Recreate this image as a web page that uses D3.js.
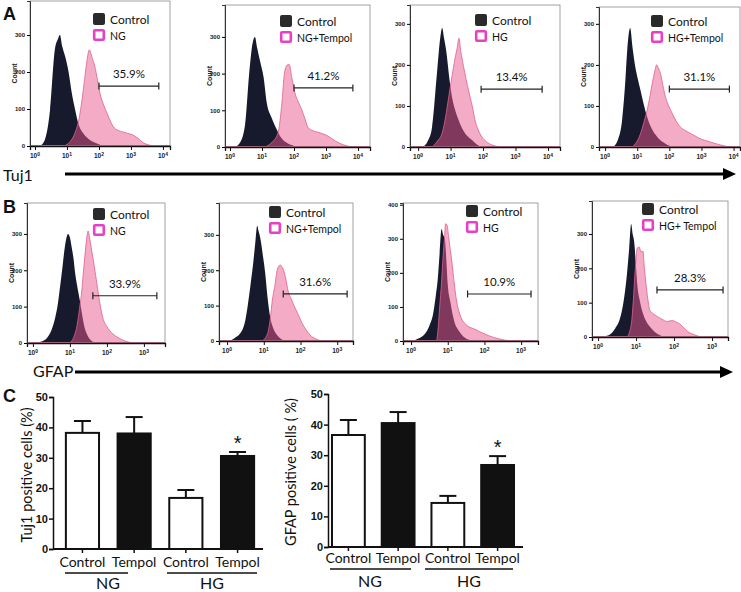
<!DOCTYPE html>
<html><head><meta charset="utf-8">
<script src="https://cdn.jsdelivr.net/npm/d3@7"></script>
<style>body{margin:0;background:#fff}svg{display:block}</style>
</head><body>
<svg id="c" width="741" height="592"></svg>
<script>
// ---------- DATA (histograms: [log10 intensity, count]) ----------
const a1Control = [[0.15,0],[0.3,15],[0.47,97],[0.62,260],[0.72,290],[0.78,300],[0.85,270],[0.95,240],[1.05,200],[1.15,143],[1.25,100],[1.35,62],[1.5,35],[1.6,25],[1.75,14],[1.9,8],[2.05,3],[2.25,0]];
const a1Sample = [[0.9,0],[1.1,12],[1.25,35],[1.38,75],[1.47,125],[1.55,180],[1.6,215],[1.7,260],[1.78,240],[1.87,215],[1.95,180],[2.03,143],[2.15,110],[2.25,89],[2.35,68],[2.45,52],[2.6,42],[2.75,38],[2.9,34],[3.06,30],[3.2,22],[3.4,8],[3.55,3],[3.7,0]];
const a2Control = [[0.15,0],[0.3,10],[0.47,60],[0.6,200],[0.7,280],[0.78,300],[0.85,270],[0.95,230],[1.05,190],[1.15,120],[1.3,80],[1.45,50],[1.6,25],[1.8,10],[2.0,3],[2.2,0]];
const a2Sample = [[1.1,0],[1.3,12],[1.5,38],[1.63,128],[1.7,200],[1.78,223],[1.85,225],[1.93,190],[2.03,147],[2.15,120],[2.25,100],[2.35,75],[2.44,53],[2.6,44],[2.75,40],[2.9,36],[3.06,30],[3.2,22],[3.38,12],[3.55,6],[3.7,2],[3.9,0]];
const a3Control = [[0.15,0],[0.3,15],[0.43,49],[0.58,180],[0.68,265],[0.74,290],[0.8,265],[0.86,237],[0.98,156],[1.06,115],[1.14,90],[1.25,65],[1.35,46],[1.5,28],[1.66,17],[1.8,7],[1.97,0]];
const a3Sample = [[0.43,0],[0.6,15],[0.74,34],[0.85,75],[0.93,115],[1.04,171],[1.14,217],[1.2,240],[1.26,265],[1.31,235],[1.36,212],[1.44,180],[1.52,150],[1.6,122],[1.68,95],[1.75,66],[1.85,42],[1.97,24],[2.1,13],[2.28,5],[2.5,0]];
const a4Control = [[0.25,0],[0.4,18],[0.53,66],[0.62,150],[0.69,237],[0.78,290],[0.85,245],[0.94,195],[1.02,165],[1.1,139],[1.2,105],[1.31,73],[1.45,45],[1.63,24],[1.8,12],[1.94,5],[2.2,0]];
const a4Sample = [[0.84,0],[0.98,12],[1.1,32],[1.2,58],[1.31,90],[1.4,125],[1.47,156],[1.55,185],[1.6,200],[1.66,192],[1.72,180],[1.8,150],[1.88,122],[1.98,100],[2.09,82],[2.2,65],[2.34,49],[2.5,40],[2.66,33],[2.8,27],[2.97,20],[3.12,16],[3.28,12],[3.45,8],[3.6,5],[3.75,2],[3.9,0]];
const b1Control = [[0.1,0],[0.25,5],[0.38,14],[0.5,35],[0.6,69],[0.67,105],[0.73,152],[0.8,210],[0.86,262],[0.95,300],[1.0,290],[1.05,262],[1.1,230],[1.14,193],[1.2,155],[1.27,116],[1.33,78],[1.4,41],[1.47,22],[1.54,10],[1.7,0]];
const b1Sample = [[1.0,0],[1.1,15],[1.2,52],[1.26,95],[1.32,143],[1.36,190],[1.4,234],[1.45,285],[1.49,308],[1.54,285],[1.59,253],[1.66,210],[1.73,162],[1.8,115],[1.89,69],[2.0,45],[2.16,25],[2.3,15],[2.43,8],[2.7,0]];
const b2Control = [[0.03,0],[0.2,8],[0.4,28],[0.5,60],[0.57,105],[0.64,160],[0.71,218],[0.77,280],[0.82,326],[0.86,310],[0.9,293],[0.97,245],[1.04,190],[1.1,125],[1.17,70],[1.25,38],[1.36,17],[1.6,0]];
const b2Sample = [[0.95,0],[1.05,10],[1.12,27],[1.18,65],[1.23,113],[1.3,155],[1.36,198],[1.41,212],[1.45,215],[1.49,210],[1.53,203],[1.6,175],[1.66,142],[1.75,118],[1.85,94],[1.95,72],[2.04,51],[2.15,32],[2.26,17],[2.4,7],[2.48,3],[2.6,0]];
const b3Control = [[0.05,0],[0.2,7],[0.38,21],[0.5,45],[0.6,79],[0.67,130],[0.73,185],[0.78,260],[0.83,329],[0.88,310],[0.92,300],[0.96,240],[1.0,166],[1.07,115],[1.14,74],[1.2,50],[1.27,35],[1.37,20],[1.46,10],[1.7,0]];
const b3Sample = [[0.7,0],[0.74,40],[0.78,100],[0.83,170],[0.87,244],[0.91,300],[0.94,344],[0.98,340],[1.02,310],[1.06,275],[1.11,235],[1.17,175],[1.24,118],[1.31,85],[1.38,65],[1.46,52],[1.54,44],[1.63,39],[1.73,35],[1.86,28],[2.0,21],[2.13,15],[2.27,10],[2.4,6],[2.54,3],[2.7,0]];
const b4Control = [[0.0,0],[0.2,3],[0.32,8],[0.45,25],[0.58,55],[0.68,110],[0.76,183],[0.82,260],[0.87,329],[0.91,300],[0.95,277],[0.99,220],[1.03,155],[1.1,105],[1.18,69],[1.27,45],[1.37,29],[1.5,14],[1.63,5],[1.8,0]];
const b4Sample = [[0.76,0],[0.83,15],[0.89,52],[0.93,110],[0.97,183],[1.0,225],[1.03,259],[1.08,262],[1.13,248],[1.18,250],[1.22,200],[1.26,155],[1.31,110],[1.37,76],[1.45,68],[1.55,60],[1.68,52],[1.82,45],[1.95,48],[2.05,44],[2.15,38],[2.23,30],[2.3,22],[2.4,13],[2.5,8],[2.7,0]];

const controlCurves = [a1Control,a2Control,a3Control,a4Control,b1Control,b2Control,b3Control,b4Control];
const sampleCurves  = [a1Sample,a2Sample,a3Sample,a4Sample,b1Sample,b2Sample,b3Sample,b4Sample];
const sampleNames = ['NG','NG+Tempol','HG','HG+Tempol','NG','NG+Tempol','HG','HG+ Tempol'];
const percents = ['35.9%','41.2%','13.4%','31.1%','33.9%','31.6%','10.9%','28.3%'];
// gate: [log10 start, log10 end, count level]
const gates = [[2.0,3.87,162],[2.0,3.84,161],[1.94,3.82,141],[2.0,3.87,141],[1.62,3.35,130],[1.53,3.27,133],[1.54,3.27,138],[1.55,3.29,137]];
const countTicksA = [0,100,200,300];
const countTicksB3 = [0,100,200,300,400];
const markerNames = ['Tuj1','GFAP'];

// bar charts
const barLabels = ['Control','Tempol','Control','Tempol'];
const groupNames = ['NG','HG'];
const tuj1Mean = [38.2,38.0,16.8,30.6];
const tuj1Err  = [3.9,5.4,2.6,1.3];
const gfapMean = [36.6,40.5,14.4,26.8];
const gfapErr  = [4.9,3.6,2.3,2.9];
const significant = [false,false,false,true];
const pctTicks = [0,10,20,30,40,50];

// ---------- LAYOUT ----------
const svg = d3.select('#c');
const UI = 'Lato, "Open Sans", sans-serif';
const TICK = '"Liberation Sans", Arial, sans-serif';
const layout = [
 {box:[30,1,170,146], xd:[-0.156,4.22], ymax:392, leg:[93,13]},
 {box:[225,5,370,147], xd:[-0.156,4.375], ymax:387, leg:[280,15]},
 {box:[410,5,560,147], xd:[-0.25,4.37], ymax:346, leg:[475,14]},
 {box:[599,7,740,147], xd:[-0.19,4.2], ymax:341, leg:[651,15]},
 {box:[27,203,165,343], xd:[-0.16,3.57], ymax:385, leg:[93,208]},
 {box:[219,203,353,341], xd:[-0.22,3.43], ymax:390, leg:[269,206]},
 {box:[403,203,538,341], xd:[-0.22,3.46], ymax:405, leg:[466,205]},
 {box:[592,201,728,337], xd:[-0.16,3.42], ymax:396, leg:[642,203]}
];

function drawHist(i){
  const L = layout[i];
  const [x0,y0,x1,y1] = L.box;
  const g = svg.append('g');
  const x = d3.scaleLog().domain([10**L.xd[0],10**L.xd[1]]).range([x0,x1]);
  const y = d3.scaleLinear().domain([0,L.ymax]).range([y1,y0]);
  const cid = 'clip'+i;
  g.append('clipPath').attr('id',cid).append('rect').attr('x',x0).attr('y',y0).attr('width',x1-x0).attr('height',y1-y0);
  const area = d3.area().x(d=>x(10**d[0])).y0(y(0)).y1(d=>y(d[1])).curve(d3.curveMonotoneX);
  const line = d3.line().x(d=>x(10**d[0])).y(d=>y(d[1])).curve(d3.curveMonotoneX);
  const pg = g.append('g').attr('clip-path',`url(#${cid})`);
  pg.append('path').datum(controlCurves[i]).attr('d',area).attr('fill','#161a2c');
  pg.append('line').attr('x1',x0).attr('x2',x1).attr('y1',y(0)-0.5).attr('y2',y(0)-0.5).attr('stroke','#e5739d').attr('stroke-width',1);
  pg.append('path').datum(sampleCurves[i]).attr('d',area).attr('fill','#e9588e').attr('fill-opacity',0.5);
  pg.append('path').datum(sampleCurves[i]).attr('d',line).attr('fill','none').attr('stroke','#e0608f').attr('stroke-width',0.8);
  // frame
  g.append('rect').attr('x',x0).attr('y',y0).attr('width',x1-x0).attr('height',y1-y0).attr('fill','none').attr('stroke','#8a8a8a').attr('stroke-width',0.8);
  // x axis
  const dmin = Math.floor(L.xd[0]), dmax = Math.ceil(L.xd[1]);
  const majors=[], minors=[];
  for(let d=dmin; d<=dmax; d++){
    for(let k=1;k<=9;k++){const v=k*10**d; if(v>=x.domain()[0]&&v<=x.domain()[1]){(k===1?majors:minors).push(v);}}
  }
  const xa = g.append('g').attr('transform',`translate(0,${y1})`);
  xa.call(d3.axisBottom(x).tickValues(minors).tickSize(2).tickFormat(''));
  xa.call(d3.axisBottom(x).tickValues(majors).tickSize(4).tickFormat(''));
  xa.selectAll('.domain').attr('stroke','#111').attr('stroke-width',1.3);
  xa.selectAll('.tick line').attr('stroke','#111');
  majors.filter(v=>v>=1).forEach(v=>{
    const t = xa.append('text').attr('x',x(v)).attr('y',12).attr('text-anchor','middle')
      .attr('font-family',TICK).attr('font-size',6.5).attr('font-weight','bold').attr('fill','#222');
    t.append('tspan').text('10');
    t.append('tspan').attr('dy',-2.5).attr('font-size',5).text(Math.round(Math.log10(v)));
  });
  // y axis
  const yt = i===6 ? countTicksB3 : countTicksA;
  const ya = g.append('g').attr('transform',`translate(${x0},0)`);
  ya.call(d3.axisLeft(y).tickValues(d3.range(0,L.ymax,25)).tickSize(1.5).tickFormat(''));
  ya.call(d3.axisLeft(y).tickValues(yt).tickSize(3).tickPadding(2).tickFormat(d3.format('d')));
  ya.selectAll('.domain').attr('stroke','#333').attr('stroke-width',1);
  ya.selectAll('text').attr('font-family',TICK).attr('font-size',6).attr('font-weight','bold').attr('fill','#222');
  g.append('text').attr('transform',`translate(${x0-13},${(y0+y1)/2}) rotate(-90)`).attr('text-anchor','middle')
    .attr('font-family',TICK).attr('font-size',7).attr('font-weight','bold').attr('fill','#222').text('Count');
  // legend
  const [lx,ly] = L.leg;
  g.append('rect').attr('x',lx).attr('y',ly).attr('width',12).attr('height',12).attr('rx',2).attr('fill','#2a2a2a');
  g.append('rect').attr('x',lx+1.2).attr('y',ly+17.2).attr('width',9.6).attr('height',9.6).attr('rx',1).attr('fill','#fff').attr('stroke','#e83fc3').attr('stroke-width',2.6);
  g.append('text').attr('x',lx+17).attr('y',ly+10.5).attr('font-family',UI).attr('font-size',12).attr('fill','#111').text('Control');
  g.append('text').attr('x',lx+17).attr('y',ly+26.5).attr('font-family',UI).attr('font-size',10.5).attr('fill','#111').text(sampleNames[i]);
  // gate
  const [gs,ge,gc] = gates[i];
  const gx0=x(10**gs), gx1=x(10**ge), gy=y(gc);
  g.append('line').attr('x1',gx0).attr('x2',gx1).attr('y1',gy).attr('y2',gy).attr('stroke','#222').attr('stroke-width',1.2);
  [gx0,gx1].forEach(v=>g.append('line').attr('x1',v).attr('x2',v).attr('y1',gy-3.5).attr('y2',gy+3.5).attr('stroke','#222').attr('stroke-width',1.2));
  g.append('text').attr('x',(gx0+gx1)/2).attr('y',gy-8).attr('text-anchor','middle').attr('font-family',UI).attr('font-size',11.5).attr('fill','#111').text(percents[i]);
}
for(let i=0;i<8;i++) drawHist(i);

// panel letters
[['A',3,20],['B',3,213],['C',3,402]].forEach(([t,xx,yy])=>svg.append('text').attr('x',xx).attr('y',yy)
  .attr('font-family',TICK).attr('font-weight','bold').attr('font-size',18).attr('fill','#111').text(t));

// marker arrows
function arrow(label, tx, ty, fs, lx0, lx1, ly){
  svg.append('text').attr('x',tx).attr('y',ty).attr('font-family',UI).attr('font-size',fs).attr('fill','#111').text(label);
  svg.append('line').attr('x1',lx0).attr('x2',lx1-8).attr('y1',ly).attr('y2',ly).attr('stroke','#000').attr('stroke-width',3);
  svg.append('path').attr('d',`M${lx1-13},${ly-6}L${lx1},${ly}L${lx1-13},${ly+6}Z`).attr('fill','#000');
}
arrow(markerNames[0], 3, 181, 16, 65, 736, 174);
arrow(markerNames[1], 33, 377, 16, 75, 733, 372);

// bar charts
function barChart(mean, err, C){
  const g = svg.append('g');
  const y = d3.scaleLinear().domain([0,50]).range([C.base, C.top]);
  const x = d3.scaleBand().domain(d3.range(4)).range(C.xr).paddingInner(C.pi).paddingOuter(C.po);
  mean.forEach((m,i)=>{
    const cx = x(i)+x.bandwidth()/2;
    g.append('line').attr('x1',cx).attr('x2',cx).attr('y1',y(m)).attr('y2',y(m+err[i])).attr('stroke','#111').attr('stroke-width',2);
    g.append('line').attr('x1',cx-8.5).attr('x2',cx+8.5).attr('y1',y(m+err[i])).attr('y2',y(m+err[i])).attr('stroke','#111').attr('stroke-width',2);
    if(significant[i]) g.append('text').attr('x',cx).attr('y',y(m+err[i])-2).attr('text-anchor','middle')
      .attr('font-family',TICK).attr('font-size',20).attr('fill','#111').text('*');
  });
  g.selectAll('rect.bar').data(mean).enter().append('rect')
    .attr('x',(d,i)=>x(i)+1).attr('width',x.bandwidth()-2)
    .attr('y',d=>y(d)).attr('height',d=>y(0)-y(d))
    .attr('fill',(d,i)=>i%2? '#111':'#fff').attr('stroke','#111').attr('stroke-width',2);
  const ya = g.append('g').attr('transform',`translate(${C.ax},0)`).call(d3.axisLeft(y).tickValues(pctTicks).tickSize(4).tickPadding(1));
  ya.selectAll('.domain,.tick line').attr('stroke','#111').attr('stroke-width',1.5);
  ya.selectAll('text').attr('font-family',TICK).attr('font-weight','bold').attr('font-size',11).attr('fill','#111');
  g.append('line').attr('x1',C.ax).attr('x2',C.xend).attr('y1',y(0)).attr('y2',y(0)).attr('stroke','#111').attr('stroke-width',1.8);
  barLabels.forEach((t,i)=>{
    const cx = x(i)+x.bandwidth()/2;
    g.append('line').attr('x1',cx).attr('x2',cx).attr('y1',y(0)).attr('y2',y(0)+4).attr('stroke','#111').attr('stroke-width',1.5);
    g.append('text').attr('x',cx).attr('y',C.labY).attr('text-anchor','middle').attr('font-family',UI).attr('font-size',14).attr('fill','#111').text(t);
  });
  groupNames.forEach((t,k)=>{
    g.append('line').attr('x1',C.gl[k][0]).attr('x2',C.gl[k][1]).attr('y1',C.glY).attr('y2',C.glY).attr('stroke','#111').attr('stroke-width',1.3);
    g.append('text').attr('x',C.gx[k]).attr('y',C.gY).attr('text-anchor','middle').attr('font-family',UI).attr('font-size',16).attr('fill','#111').text(t);
  });
  g.append('text').attr('transform',`translate(${C.tx},${C.ty}) rotate(-90)`).attr('text-anchor','middle')
    .attr('font-family',UI).attr('font-size',14.5).attr('fill','#111').text(C.title);
}
barChart(tuj1Mean, tuj1Err, {base:549, top:397, xr:[56.6,263.4], pi:0.32, po:0.16, ax:53, xend:263, labY:567,
  gl:[[65,128],[167,257]], glY:573, gx:[108,212], gY:589, tx:32, ty:475, title:'Tuj1 positive cells (%)'});
barChart(gfapMean, gfapErr, {base:547, top:394, xr:[328,518], pi:0.3, po:0.06, ax:328, xend:523, labY:563,
  gl:[[330,411],[425,513]], glY:569, gx:[370,469], gY:587, tx:296, ty:472, title:'GFAP positive cells ( %)'});
</script>
</body></html>
